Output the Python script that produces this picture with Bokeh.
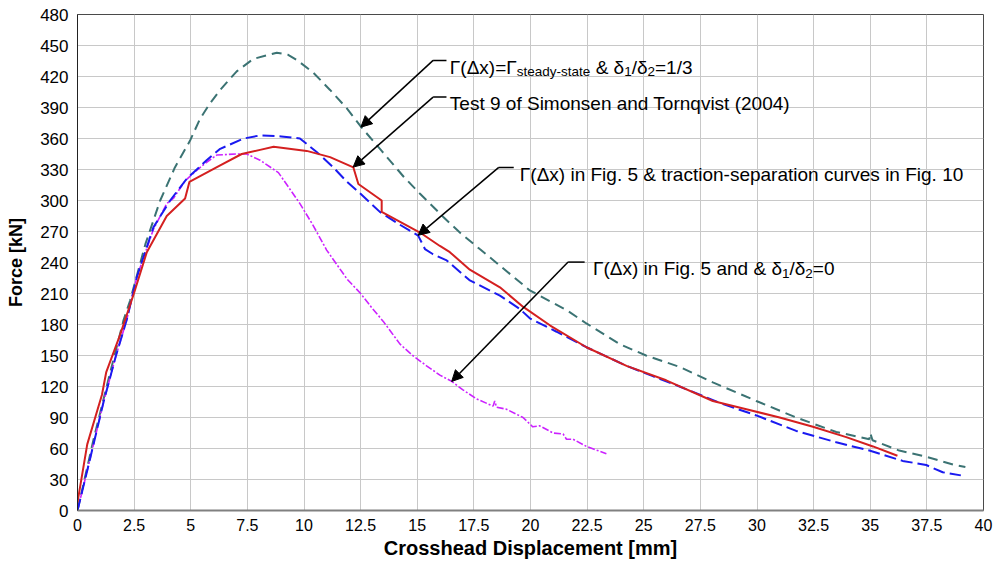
from bokeh.plotting import figure
from bokeh.models import FixedTicker, Arrow, NormalHead, Range1d
from bokeh.core.properties import value
from bokeh.embed import file_html
from bokeh.resources import INLINE

# ---------------- data ----------------
x_ticks = [0, 2.5, 5, 7.5, 10, 12.5, 15, 17.5, 20, 22.5, 25, 27.5, 30, 32.5, 35, 37.5, 40]
x_tick_labels = ["0", "2.5", "5", "7.5", "10", "12.5", "15", "17.5", "20", "22.5", "25",
                 "27.5", "30", "32.5", "35", "37.5", "40"]
y_ticks = [0, 30, 60, 90, 120, 150, 180, 210, 240, 270, 300, 330, 360, 390, 420, 450, 480]
y_tick_labels = [str(v) for v in y_ticks]

steady_x = [0, 0.7, 1.4, 2.03, 2.32, 3.0, 3.65, 4.3, 4.97, 5.41, 5.85, 6.3, 6.7, 7.03, 7.76, 8.8,
            9.3, 9.68, 10.4, 11.15, 11.9, 12.53, 13.43, 14.4, 15.1, 15.7, 16.15, 16.88, 17.76,
            18.65, 19.97, 21.59, 22.47, 23.94, 25.1, 26.58, 28.05, 29.97, 31.73, 33.5, 34.96,
            35.0, 35.1, 36.28, 37.47, 38.74, 39.2]
steady_y = [0, 68, 130, 184, 203, 258, 300, 332, 358, 379, 394, 407, 417, 425, 437, 443,
            441, 436, 424, 407, 389, 371, 348, 323, 307, 294, 284, 269, 253,
            237, 213, 194, 181, 161, 150, 139, 124, 106, 90, 76, 69,
            75, 68, 58, 52, 44, 42]

ts_x = [0, 0.5, 1.15, 1.7, 2.18, 2.62, 3.35, 4.09, 4.82, 5.41, 5.7, 6.3, 7.34, 8.06, 9.0, 9.82,
        10.56, 11.3, 11.9, 12.47, 13.35, 14.2, 15.04, 15.34, 15.7, 16.3, 17.3, 18.65,
        19.53, 19.97, 21.15, 22.47, 24.24, 25.4, 26.58, 28.5, 29.97, 31.73, 33.5, 34.96, 36.43,
        37.47, 38.2, 39.0]
ts_y = [0, 45, 105, 150, 185, 226, 274, 300, 321, 333, 339, 350, 360, 363, 362, 360,
        347, 332, 318, 307, 289, 277, 266, 253, 248, 242, 223, 208,
        195, 186, 173, 158, 140, 130, 120, 103, 92, 77, 66, 58, 48,
        44, 37, 34]

test_x = [0, 0.43, 1.08, 1.27, 1.88, 2.49, 3.06, 3.94, 4.75, 4.94, 6.3, 7.25, 8.06, 8.66, 10.12,
          11.15, 12.18, 12.4, 13.43, 13.43, 15.12, 16.0, 16.44, 17.32, 18.65, 19.68, 20.87, 22.47,
          24.24, 25.99, 28.05, 29.53, 31.0, 32.47, 33.94, 35.12, 36.2]
test_y = [8, 64, 112, 134, 170, 210, 250, 285, 302, 318, 334, 345, 349, 352, 348,
          342, 332, 316, 300, 289, 269, 256, 250, 233, 216, 197, 179, 158,
          140, 126, 106, 98, 90, 81, 71, 62, 53]

zero_x = [0, 0.5, 1.15, 1.7, 2.18, 2.62, 3.35, 3.94, 4.23, 4.75, 5.2, 5.7, 6.15, 7.03, 7.47, 8.06,
          8.87, 9.82, 10.4, 11.0, 11.9, 12.5, 13.0, 13.5, 14.24, 14.8, 15.41, 16.0, 16.52, 17.0,
          17.62, 18.35, 18.42, 18.5, 18.94, 19.67, 20.1, 20.4, 21.0, 21.44, 21.59, 21.88, 22.47,
          23.35]
zero_y = [0, 45, 105, 150, 185, 226, 272, 297, 302, 319, 328, 337, 344, 345, 345, 339,
          327, 297, 276, 252, 224, 210, 196, 183, 161, 150, 140, 131, 125, 117,
          108, 101, 106, 100, 98, 90, 81, 82, 75, 74, 69, 69, 62,
          55]

# ---------------- figure ----------------
FONT = "Liberation Sans"

p = figure(width=998, height=567, output_backend="svg", toolbar_location=None,
           x_range=Range1d(0, 40), y_range=Range1d(0, 480),
           min_border_left=77, min_border_right=15, min_border_top=14, min_border_bottom=57)
p.background_fill_color = "white"
p.border_fill_color = "white"
p.outline_line_color = "#4A4A4A"
p.outline_line_width = 1

p.xaxis.ticker = FixedTicker(ticks=x_ticks)
p.yaxis.ticker = FixedTicker(ticks=y_ticks)
p.xgrid.ticker = FixedTicker(ticks=x_ticks)
p.ygrid.ticker = FixedTicker(ticks=y_ticks)
p.xaxis.major_label_overrides = {t: l for t, l in zip(x_ticks, x_tick_labels)}
p.yaxis.major_label_overrides = {t: l for t, l in zip(y_ticks, y_tick_labels)}
p.grid.grid_line_color = "#C8C8C8"
p.grid.grid_line_width = 1

for ax in (p.xaxis[0], p.yaxis[0]):
    ax.major_tick_out = 0
    ax.major_tick_in = 0
    ax.minor_tick_out = 0
    ax.minor_tick_in = 0
    ax.major_label_text_color = "black"
    ax.axis_label_text_color = "black"
    ax.axis_label_text_font_style = "bold"

p.xaxis.axis_line_color = "#808080"
p.xaxis.axis_line_width = 2
p.yaxis.axis_line_color = "#222222"
p.yaxis.axis_line_width = 1

p.xaxis.major_label_text_font = FONT
p.xaxis.major_label_text_font_size = "16px"
p.xaxis.major_label_standoff = 8
p.xaxis.axis_label = "Crosshead Displacement [mm]"
p.xaxis.axis_label_text_font = FONT
p.xaxis.axis_label_text_font_size = "20px"
p.xaxis.axis_label_standoff = 3

p.yaxis.major_label_text_font = FONT
p.yaxis.major_label_text_font_size = "17px"
p.yaxis.major_label_standoff = 9
p.yaxis.axis_label = "Force [kN]"
p.yaxis.axis_label_text_font = FONT
p.yaxis.axis_label_text_font_size = "18px"
p.yaxis.axis_label_standoff = 11

# ---------------- curves ----------------
p.line(steady_x, steady_y, line_color="#3B7373", line_width=2, line_dash="10 6")
p.line(zero_x, zero_y, line_color="#CC22FF", line_width=1.6, line_dash="7 2 2 2")
p.line(ts_x, ts_y, line_color="#1A1AF0", line_width=2, line_dash="12 5")
p.line(test_x, test_y, line_color="#D42020", line_width=2)

# ---------------- annotations ----------------
W = {' ': 278, '&': 667, '(': 333, ')': 333, '-': 333, '.': 278, '/': 278, '=': 584,
     'F': 611, 'T': 611, 'S': 667, 'a': 556, 'c': 500, 'd': 556, 'e': 556, 'f': 278, 'g': 556,
     'i': 222, 'm': 833, 'n': 556, 'o': 556, 'p': 556, 'q': 556, 'r': 333, 's': 500, 't': 278,
     'u': 556, 'v': 500, 'x': 500, 'y': 500, 'Γ': 553, 'Δ': 668, 'δ': 556}


def width(s, size):
    return sum(W.get(c, 556) for c in s) * size / 1000.0


MAIN = 19
SUB = 13.5


def rich_text(x, y, pieces):
    off = 0.0
    for txt, sub in pieces:
        size = SUB if sub else MAIN
        lead = len(txt) - len(txt.lstrip(" "))
        off += width(" " * lead, size)
        body = txt.strip(" ")
        p.text(x=[x], y=[y], text=[body], x_offset=off, y_offset=(11.5 if sub else 6.8),
               text_font=value(FONT), text_font_size=f"{size}px", text_color="black",
               text_align="left", text_baseline="alphabetic")
        off += width(txt.lstrip(" "), size)


def callout(hx0, hx1, hy, tipx, tipy):
    p.segment(x0=[hx0], y0=[hy], x1=[hx1], y1=[hy], line_color="black", line_width=1.5)
    p.add_layout(Arrow(end=NormalHead(size=11, fill_color="black", line_color="black"),
                       x_start=hx0, y_start=hy, x_end=tipx, y_end=tipy,
                       line_color="black", line_width=1.5))


callout(15.70, 16.29, 435.6, 12.51, 371.0)
rich_text(16.44, 435.6, [("Γ(Δx)=Γ", False), ("steady-state", True), (" & δ", False),
                         ("1", True), ("/δ", False), ("2", True), ("=1/3", False)])

callout(15.70, 16.29, 400.1, 12.17, 332.3)
rich_text(16.44, 400.1, [("Test 9 of Simonsen and Tornqvist (2004)", False)])

callout(18.60, 19.26, 332.0, 15.04, 266.3)
rich_text(19.53, 332.0, [("Γ(Δx) in Fig. 5 & traction-separation curves in Fig. 10", False)])

callout(21.66, 22.39, 240.4, 16.52, 124.9)
rich_text(22.76, 240.4, [("Γ(Δx) in Fig. 5 and & δ", False), ("1", True), ("/δ", False),
                         ("2", True), ("=0", False)])

open("out.html", "w").write(file_html(p, INLINE))
